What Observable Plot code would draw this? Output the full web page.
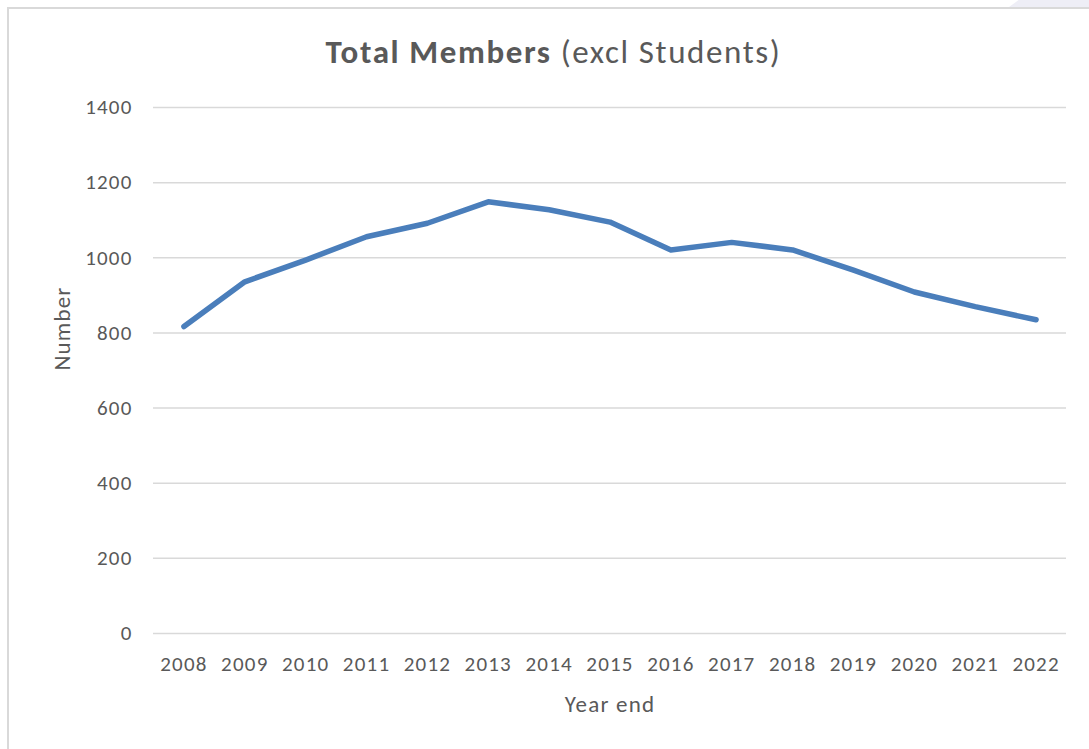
<!DOCTYPE html>
<html>
<head>
<meta charset="utf-8">
<script src="https://cdn.jsdelivr.net/npm/d3@7"></script>
<script src="https://cdn.jsdelivr.net/npm/@observablehq/plot@0.6"></script>
<style>
  html, body { margin: 0; padding: 0; background: #fff; }
  #wrap { position: relative; width: 1089px; height: 749px; overflow: hidden; font-family: Carlito, Calibri, Lato, sans-serif; }
  #frame { position: absolute; left: 7px; top: 7px; right: -10px; bottom: -10px; border: 2px solid #d9d9d9; box-sizing: border-box; pointer-events: none; }
  #corner { position: absolute; right: 0; top: 0; width: 80px; height: 7px; background: #eeeef6; clip-path: polygon(12% 0, 100% 0, 100% 100%, 0 100%); }
  #title { height: 85px; box-sizing: border-box; padding-top: 33px; padding-left: 18px; text-align: center; font-size: 33px; letter-spacing: 1.6px; color: #595959; line-height: 38px; }
  #title b { font-weight: 700; }
</style>
</head>
<body>
<div id="wrap">
  <div id="corner"></div>
  <div id="frame"></div>
  <div id="title"><b>Total Members</b> (excl Students)</div>
  <div id="chart"></div>
</div>
<script>
const years = ["2008","2009","2010","2011","2012","2013","2014","2015","2016","2017","2018","2019","2020","2021","2022"];
const members = [817, 936, 994, 1056, 1092, 1149, 1128, 1095, 1021, 1041, 1021, 967, 909, 870, 835];
const yTicks = [0, 200, 400, 600, 800, 1000, 1200, 1400];

const data = years.map((y, i) => ({year: y, value: members[i]}));

const chart = Plot.plot({
  width: 1089,
  height: 664,
  marginTop: 22,
  marginBottom: 116,
  marginLeft: 153,
  marginRight: 23,
  style: {fontFamily: "Carlito, Calibri, Lato, sans-serif", fontSize: "21px", color: "#595959", background: "transparent", letterSpacing: "1.2px"},
  x: {type: "point", domain: years, padding: 0.5, round: false, label: null},
  y: {domain: [0, 1400], label: null},
  marks: [
    Plot.ruleY(yTicks, {stroke: "#d9d9d9", strokeWidth: 1.5}),
    Plot.axisY(yTicks, {tickSize: 0, tickPadding: 21, label: null, fontSize: 21, fill: "#595959", tickFormat: d3.format("d")}),
    Plot.axisX({tickSize: 0, tickPadding: 23, label: null, fontSize: 21, fill: "#595959"}),
    Plot.line(data, {x: "year", y: "value", stroke: "#4a7ebb", strokeWidth: 5.5, strokeLinecap: "round", strokeLinejoin: "round"}),
    Plot.text(["Year end"], {frameAnchor: "bottom", dy: 78, fontSize: 23, fill: "#595959", style: "letter-spacing:1.5px"}),
    Plot.text(["Number"], {frameAnchor: "left", dx: -91, rotate: -90, fontSize: 23, fill: "#595959"})
  ]
});
document.getElementById("chart").appendChild(chart);
</script>
</body>
</html>
